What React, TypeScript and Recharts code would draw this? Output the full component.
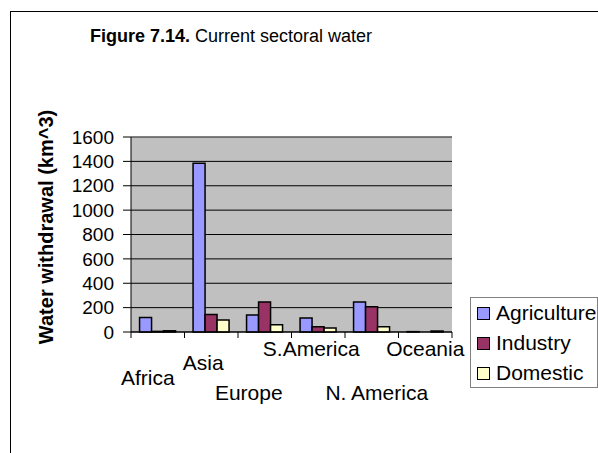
import React from 'react';
import { BarChart, Bar, XAxis, YAxis, CartesianGrid, Legend, ReferenceLine } from 'recharts';

// data
const regions = ['Africa', 'Asia', 'Europe', 'S.America', 'N. America', 'Oceania'];
const agriculture = [120, 1385, 139, 114, 247, 3];
const industry = [5, 144, 247, 43, 207, 0];
const domestic = [10, 98, 60, 33, 43, 8];
const seriesNames = ['Agriculture', 'Industry', 'Domestic'];
const yTicks = [0, 200, 400, 600, 800, 1000, 1200, 1400, 1600];

const data = regions.map((name, i) => ({
    name,
    Agriculture: agriculture[i],
    Industry: industry[i],
    Domestic: domestic[i],
}));

const FONT = '"Liberation Sans", Arial, sans-serif';
const PLOT_LEFT = 131;
const PLOT_RIGHT = 452;
const BAND = (PLOT_RIGHT - PLOT_LEFT) / regions.length;

// Excel staggers the category labels over several rows
const labelShift = [
    { dx: -10, dy: 53 },
    { dx: -8, dy: 38 },
    { dx: -16, dy: 68 },
    { dx: -7, dy: 24 },
    { dx: 5, dy: 68 },
    { dx: 0, dy: 24 },
];

function CategoryTick(props: any) {
    const { x, y, payload, index } = props;
    const s = labelShift[index] || { dx: 0, dy: 24 };
    const left = x - BAND / 2;
    return (
        <g>
            <line x1={left} y1={y} x2={left} y2={y + 6} stroke="#000" />
            {index === regions.length - 1 && (
                <line x1={x + BAND / 2} y1={y} x2={x + BAND / 2} y2={y + 6} stroke="#000" />
            )}
            <text x={x + s.dx} y={y + s.dy} textAnchor="middle" fontSize={21} fontFamily={FONT} fill="#000">
                {payload.value}
            </text>
        </g>
    );
}

function LegendBox(props: any) {
    const items = [...(props.payload || [])].sort(
        (a: any, b: any) => seriesNames.indexOf(a.value) - seriesNames.indexOf(b.value)
    );
    return (
        <div style={{ width: 126, height: 89, border: '1px solid #808080', background: '#fff', fontFamily: FONT, fontSize: 21 }}>
            {items.map((p: any) => (
                <div key={p.value} style={{ display: 'flex', alignItems: 'center', height: 30 }}>
                    <span style={{ display: 'inline-block', width: 11, height: 11, background: p.color, border: '1.5px solid #000', marginLeft: 6, marginRight: 6 }} />
                    <span style={{ lineHeight: '30px' }}>{p.value}</span>
                </div>
            ))}
        </div>
    );
}

export default function App() {
    return (
        <div style={{ position: 'absolute', left: 0, top: 0, width: 598, height: 453, background: '#fff', overflow: 'hidden' }}>
            <BarChart
                width={598}
                height={453}
                data={data}
                margin={{ top: 137, right: 146, bottom: 41, left: 71 }}
                barGap={0}
                barCategoryGap="16%"
            >
                <CartesianGrid vertical={false} fill="#C0C0C0" stroke="#000" strokeOpacity={1} />
                <XAxis
                    dataKey="name"
                    height={80}
                    interval={0}
                    tickSize={0}
                    tickMargin={0}
                    tickLine={false}
                    axisLine={{ stroke: '#000' }}
                    tick={<CategoryTick />}
                />
                <YAxis
                    width={60}
                    domain={[0, 1600]}
                    ticks={yTicks}
                    interval={0}
                    tickSize={8}
                    tickMargin={9}
                    axisLine={{ stroke: '#000' }}
                    tickLine={{ stroke: '#000' }}
                    tick={{ fontSize: 19, fill: '#000', fontFamily: FONT }}
                />
                <YAxis yAxisId="edge" orientation="right" width={0} tick={false} axisLine={{ stroke: '#808080' }} />
                <ReferenceLine y={1600} stroke="#808080" />
                <Legend
                    layout="vertical"
                    align="center"
                    verticalAlign="middle"
                    content={<LegendBox />}
                    wrapperStyle={{ position: 'absolute', left: 470, top: 297, width: 'auto' }}
                />
                <Bar dataKey="Agriculture" fill="#9999FF" stroke="#000" strokeWidth={1.5} isAnimationActive={false} />
                <Bar dataKey="Industry" fill="#993366" stroke="#000" strokeWidth={1.5} isAnimationActive={false} />
                <Bar dataKey="Domestic" fill="#FFFFCC" stroke="#000" strokeWidth={1.5} isAnimationActive={false} />
            </BarChart>
            <svg width={598} height={453} style={{ position: 'absolute', left: 0, top: 0, pointerEvents: 'none' }}>
                <rect x={10.5} y={11.5} width={620} height={480} fill="none" stroke="#000" />
                <text x={90} y={42} fontSize={18} fontFamily={FONT} fill="#000">
                    <tspan fontWeight="bold">Figure 7.14.</tspan>
                    <tspan> Current sectoral water</tspan>
                </text>
                <text transform="translate(53,227) rotate(-90)" textAnchor="middle" fontSize={20} fontWeight="bold" fontFamily={FONT} fill="#000">
                    Water withdrawal (km^3)
                </text>
            </svg>
        </div>
    );
}
